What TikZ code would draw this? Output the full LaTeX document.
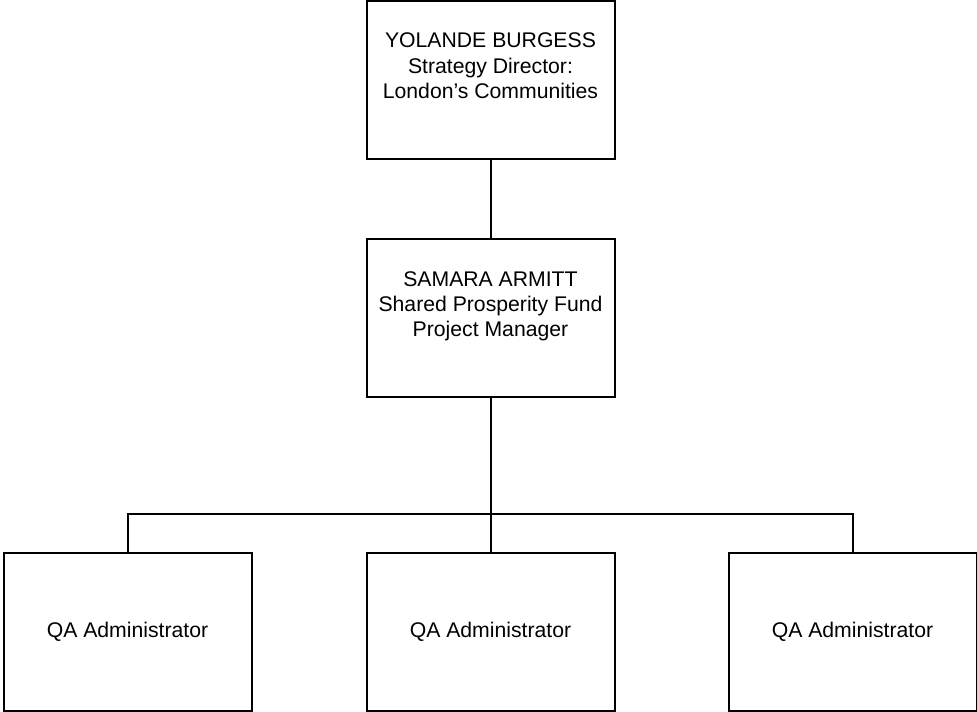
\documentclass[tikz,border=0pt]{standalone}
\usepackage{fontspec}
\setmainfont{Liberation Sans}
\begin{document}
\begin{tikzpicture}[x=1pt,y=-1pt,
  box/.style={draw=black, line width=2pt, minimum width=248pt, minimum height=158pt, inner sep=0pt},
  txt/.style={align=center, font=\fontsize{21.2pt}{25.3pt}\selectfont, inner sep=0pt},
  link/.style={draw=black, line width=2pt}]
\useasboundingbox (0,0) rectangle (977,712);
\node[box] (dir) at (490.5,80) {};
\node[box] (mgr) at (490.5,317.5) {};
\node[box] (qa1) at (127.5,632) {};
\node[box] (qa2) at (490.5,632) {};
\node[box] (qa3) at (852.5,632) {};
\node[txt, anchor=base] (dirt) at (490.5,98.3) {YOLANDE BURGESS\\Strategy Director:\\London’s Communities};
\node[txt, anchor=base] (mgrt) at (490.5,336.7) {SAMARA ARMITT\\Shared Prosperity Fund\\Project Manager};
\node[txt] (qa1t) at (qa1) {QA Administrator};
\node[txt] (qa2t) at (qa2) {QA Administrator};
\node[txt] (qa3t) at (qa3) {QA Administrator};
\coordinate (bus) at (490.5,513.5);
\draw[link] (dir.south) -- (mgr.north);
\draw[link] (mgr.south) -- (bus);
\draw[link] (qa1.north) |- (bus) -| (qa3.north);
\draw[link] (bus) -- (qa2.north);
\end{tikzpicture}
\end{document}
